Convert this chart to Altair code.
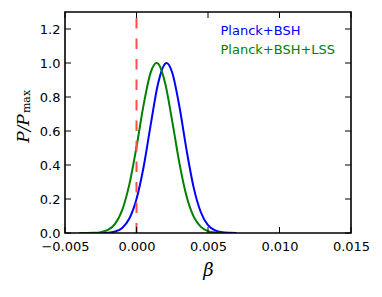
import altair as alt
import pandas as pd

series = ["Planck+BSH", "Planck+BSH+LSS"]
colors = ["#0000ff", "#008000"]

x_blue = [-0.003, -0.0025, -0.002, -0.0015, -0.001, -0.0005, 0.0, 0.0005, 0.001, 0.0015,
          0.002, 0.0021, 0.0025, 0.003, 0.0035, 0.004, 0.0045, 0.005, 0.0055, 0.006, 0.0065, 0.007]
y_blue = [0.0, 0.0004, 0.002, 0.009, 0.03, 0.085, 0.20, 0.39, 0.64, 0.877,
          0.996, 1.0, 0.943, 0.744, 0.489, 0.267, 0.122, 0.046, 0.015, 0.004, 0.001, 0.0]

x_green = [-0.004, -0.0035, -0.003, -0.0025, -0.002, -0.0015, -0.001, -0.0005, 0.0, 0.0005,
           0.001, 0.0014, 0.0015, 0.002, 0.0025, 0.003, 0.0035, 0.004, 0.0045, 0.005, 0.0055, 0.006]
y_green = [0.0, 0.0002, 0.001, 0.005, 0.018, 0.054, 0.135, 0.286, 0.506, 0.755,
           0.946, 1.0, 0.997, 0.882, 0.657, 0.411, 0.216, 0.096, 0.036, 0.011, 0.003, 0.0]

vline_x = [0.0]
vline_top = [1.265]
vline_bottom = [0.0]

x_ticks = [-0.005, 0.0, 0.005, 0.010, 0.015]
y_ticks = [0.0, 0.2, 0.4, 0.6, 0.8, 1.0, 1.2]

y_title_main = "P/P"
y_title_sub = "max"

W, H = 286, 221

df = pd.concat([
    pd.DataFrame({"x": x_blue, "y": y_blue, "series": series[0]}),
    pd.DataFrame({"x": x_green, "y": y_green, "series": series[1]}),
])
df_v = pd.DataFrame({"x": vline_x, "y": vline_top, "y2": vline_bottom})
df_xt = pd.DataFrame({"x": x_ticks})
df_yt = pd.DataFrame({"y": y_ticks})

xs = alt.Scale(domain=[-0.005, 0.015], nice=False, zero=False)
ys = alt.Scale(domain=[0, 1.3], nice=False, zero=False)
xaxis = alt.Axis(values=x_ticks, format=".3f", ticks=False, domain=False, grid=False,
                 labelFlush=False, labelPadding=7, title="β", titleFont="DejaVu Serif",
                 titleFontStyle="italic", titleFontWeight="normal", titleFontSize=18,
                 titlePadding=8)
yaxis = alt.Axis(values=y_ticks, format=".1f", ticks=False, domain=False, grid=False,
                 labelFlush=False, labelPadding=5, title="")
X = alt.X("x:Q", scale=xs, axis=xaxis)
Y = alt.Y("y:Q", scale=ys, axis=yaxis)
cscale = alt.Scale(domain=series, range=colors)

lines = alt.Chart(df).mark_line(strokeWidth=2, interpolate="monotone", clip=True).encode(
    x=X, y=Y, color=alt.Color("series:N", scale=cscale, legend=None), detail="series:N"
)
vline = alt.Chart(df_v).mark_rule(color="#ff4d4d", strokeWidth=2, strokeDash=[10.5, 10]).encode(
    x=X, y=Y, y2="y2:Q"
)
tb = alt.Chart(df_xt).mark_rule(color="black", strokeWidth=1).encode(
    x=X, y=alt.value(H), y2=alt.value(H - 6))
tt = alt.Chart(df_xt).mark_rule(color="black", strokeWidth=1).encode(
    x=X, y=alt.value(0), y2=alt.value(6))
tl = alt.Chart(df_yt).mark_rule(color="black", strokeWidth=1).encode(
    y=Y, x=alt.value(0), x2=alt.value(6))
tr = alt.Chart(df_yt).mark_rule(color="black", strokeWidth=1).encode(
    y=Y, x=alt.value(W), x2=alt.value(W - 6))

leg1 = alt.Chart(pd.DataFrame({"series": [series[0]]})).mark_text(
    align="left", baseline="middle", font="DejaVu Sans", fontSize=13).encode(
    x=alt.value(155.5), y=alt.value(18.5), text="series:N",
    color=alt.Color("series:N", scale=cscale, legend=None))
leg2 = alt.Chart(pd.DataFrame({"series": [series[1]]})).mark_text(
    align="left", baseline="middle", font="DejaVu Sans", fontSize=13).encode(
    x=alt.value(155.5), y=alt.value(38), text="series:N",
    color=alt.Color("series:N", scale=cscale, legend=None))

ytitle1 = alt.Chart(pd.DataFrame({"t": [y_title_main]})).mark_text(
    align="center", baseline="middle", angle=270, font="DejaVu Serif", fontStyle="italic",
    fontSize=17, color="black").encode(
    x=alt.value(-41.5), y=alt.value(116.5), text="t:N")
ytitle2 = alt.Chart(pd.DataFrame({"t": [y_title_sub]})).mark_text(
    align="center", baseline="middle", angle=270, font="DejaVu Serif",
    fontSize=11, color="black").encode(
    x=alt.value(-38.5), y=alt.value(89.5), text="t:N")

frame = alt.Chart(pd.DataFrame({"a": [0]})).mark_rect(
    fill=None, stroke="black", strokeWidth=1.6).encode(
    x=alt.value(0), x2=alt.value(W), y=alt.value(0), y2=alt.value(H))

chart = alt.layer(lines, vline, tb, tt, tl, tr, leg1, leg2, ytitle1, ytitle2, frame).properties(
    width=W, height=H,
    padding={"left": 57, "top": 4, "right": 20, "bottom": 48},
    autosize=alt.AutoSizeParams(type="none"),
).configure_view(stroke=None).configure_axis(
    labelFont="DejaVu Sans", labelFontSize=13, labelColor="black", titleColor="black"
)

chart.save("out.html", embed_options={"renderer": "svg", "actions": False})
